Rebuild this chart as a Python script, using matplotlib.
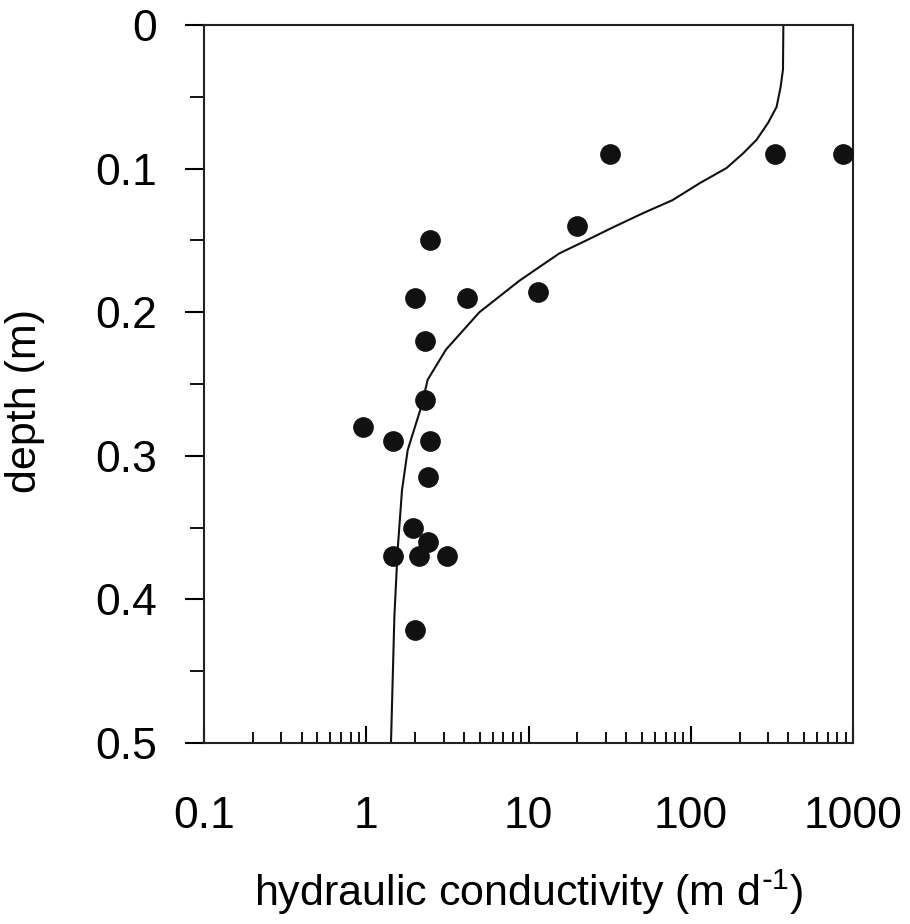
import numpy as np
from matplotlib import pyplot as plt
from matplotlib.ticker import FixedLocator, LogLocator, NullFormatter

plt.rcParams['font.family'] = ['Liberation Sans', 'DejaVu Sans']

# measured points (conductivity in m/d, depth in m)
obs_k = [31.6, 330, 871, 20, 2.47, 2.0, 4.16, 11.5, 2.31, 2.31, 0.95, 1.47, 2.47,
         2.39, 1.93, 2.39, 1.47, 2.12, 3.15, 2.0]
obs_depth = [0.09, 0.09, 0.09, 0.14, 0.15, 0.19, 0.19, 0.186, 0.22, 0.261, 0.28,
             0.29, 0.29, 0.315, 0.35, 0.36, 0.37, 0.37, 0.37, 0.421]

# model curve
fit_k = [372, 370, 358, 338, 300, 254, 210, 166, 114, 77, 50.8, 33, 22.7, 15.5,
         8.8, 4.98, 3.10, 2.39, 2.18, 1.80, 1.66, 1.56, 1.49, 1.42]
fit_depth = [0.0, 0.031, 0.043, 0.057, 0.068, 0.080, 0.0894, 0.0996, 0.110, 0.122,
             0.131, 0.141, 0.150, 0.159, 0.178, 0.200, 0.226, 0.247, 0.266, 0.296,
             0.324, 0.366, 0.412, 0.5]

x_ticks = [0.1, 1, 10, 100, 1000]
x_labels = ['0.1', '1', '10', '100', '1000']
y_ticks = [0, 0.1, 0.2, 0.3, 0.4, 0.5]
y_labels = ['0', '0.1', '0.2', '0.3', '0.4', '0.5']

fig = plt.figure(figsize=(9.1, 9.24), dpi=100)
ax = fig.add_axes([0.2242, 0.1959, 0.7132, 0.777])

ax.plot(fit_k, fit_depth, color='#111111', lw=1.5)
ax.plot(obs_k, obs_depth, 'o', color='#111111', ms=13.9, mec='#111111',
        clip_on=False, zorder=3)

ax.set_xscale('log')
ax.set_xlim(0.1, 1000)
ax.set_ylim(0.5, 0)

ax.set_xticks(x_ticks)
ax.set_xticklabels(x_labels)
ax.xaxis.set_minor_locator(LogLocator(base=10, subs=np.arange(2, 10)))
ax.xaxis.set_minor_formatter(NullFormatter())
ax.set_yticks(y_ticks)
ax.set_yticklabels(y_labels)
ax.yaxis.set_minor_locator(FixedLocator([0.05, 0.15, 0.25, 0.35, 0.45]))

for s in ax.spines.values():
    s.set_linewidth(1.5)
    s.set_color('#222222')

ax.tick_params(axis='x', which='major', direction='in', length=12, width=1.5,
               labelsize=32, pad=38, top=False)
ax.tick_params(axis='x', which='minor', direction='in', length=8, width=1.3, top=False)
ax.tick_params(axis='y', which='major', direction='out', length=14, width=1.5,
               labelsize=32, pad=20, right=False)
ax.tick_params(axis='y', which='minor', direction='out', length=10, width=1.3, right=False)

ax.set_xlabel('hydraulic conductivity (m d$^{\\text{-}\\mathregular{1}}$)', fontsize=31,
              labelpad=22)
ax.set_ylabel('depth (m)', fontsize=31)
ax.yaxis.set_label_coords(-0.245, 0.476)

fig.savefig('out.png', dpi=100, facecolor='white')
